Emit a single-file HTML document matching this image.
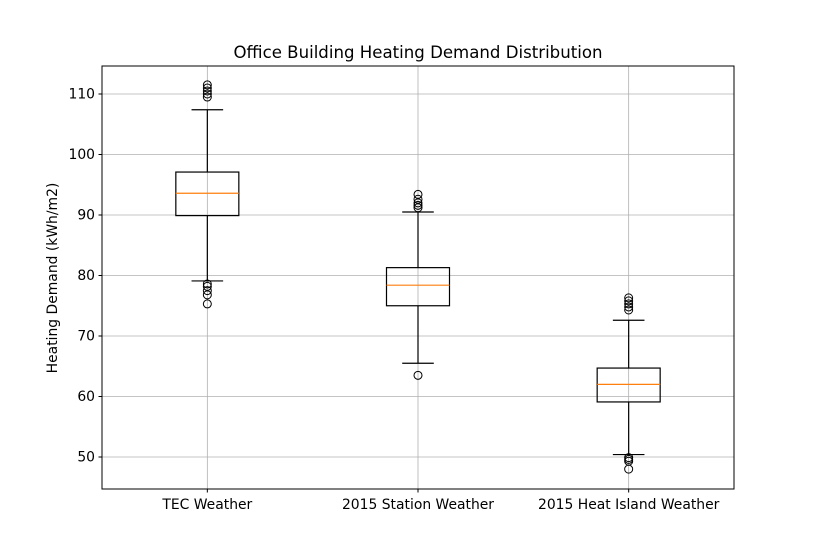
<!DOCTYPE html>
<html><head><meta charset="utf-8"><style>body{margin:0;background:#fff}svg{display:block;font-family:"DejaVu Sans","Liberation Sans",sans-serif}</style></head>
<body>
<svg id="c" width="816" height="549"></svg>
<script>
const categories=["TEC Weather","2015 Station Weather","2015 Heat Island Weather"];
const q1=[89.9,75.0,59.1];
const q3=[97.1,81.3,64.7];
const medians=[93.6,78.4,62.0];
const whiskLo=[79.1,65.5,50.4];
const whiskHi=[107.4,90.5,72.6];
const outliers=[[75.3,76.8,77.5,78.2,78.6,109.5,110.0,110.5,111.0,111.5],[63.5,91.2,91.6,92.0,92.6,93.4],[48.0,49.3,49.6,49.9,74.3,74.8,75.3,75.8,76.3]];
const yTicks=[50,60,70,80,90,100,110];
const L=102,R=734,T=66,B=489;
const ys=v=>457-(v-50)*6.05;
const xs=i=>L+(i+0.5)*(R-L)/3;
const NS="http://www.w3.org/2000/svg",svg=document.getElementById('c');
function mk(t,a,txt){const e=document.createElementNS(NS,t);for(const k in a)e.setAttribute(k,a[k]);if(txt!=null)e.textContent=txt;svg.appendChild(e);return e;}
yTicks.forEach(v=>{const y=ys(v);
const g=mk('line',{x1:L,x2:R,y1:y,y2:y,stroke:'#b0b0b0','stroke-width':0.8});


mk('line',{x1:L-3.5,x2:L,y1:y,y2:y,stroke:'#000'});
const t=mk('text',{x:L-7,y:y+4.5,'text-anchor':'end','font-size':13.9},v);

});
categories.forEach((c,i)=>{const x=xs(i);
const g=mk('line',{x1:x,x2:x,y1:T,y2:B,stroke:'#b0b0b0','stroke-width':0.8});


mk('line',{x1:x,x2:x,y1:B,y2:B+3.5,stroke:'#000'});
const t=mk('text',{x:x,y:B+20,'text-anchor':'middle','font-size':13.9},c);

});
categories.forEach((c,i)=>{const x=xs(i),hw=31.5,cw=15.8;
const s={stroke:'#000','stroke-width':1.2,fill:'none'};
mk('line',Object.assign({x1:x,x2:x,y1:ys(q1[i]),y2:ys(whiskLo[i])},s));
mk('line',Object.assign({x1:x,x2:x,y1:ys(q3[i]),y2:ys(whiskHi[i])},s));
mk('line',Object.assign({x1:x-cw,x2:x+cw,y1:ys(whiskLo[i]),y2:ys(whiskLo[i])},s));
mk('line',Object.assign({x1:x-cw,x2:x+cw,y1:ys(whiskHi[i]),y2:ys(whiskHi[i])},s));
const b=mk('rect',Object.assign({x:x-hw,y:ys(q3[i]),width:2*hw,height:ys(q1[i])-ys(q3[i])},s));


const m=mk('line',{x1:x-hw,x2:x+hw,y1:ys(medians[i]),y2:ys(medians[i]),stroke:'#ff7f0e','stroke-width':1.2});


outliers[i].forEach(v=>{const o=mk('circle',{cx:x,cy:ys(v),r:4,fill:'none',stroke:'#000','stroke-width':1});

});});
const f=mk('rect',{x:L,y:T,width:R-L,height:B-T,fill:'none',stroke:'#000','stroke-width':1});


const ti=mk('text',{x:(L+R)/2,y:58,'text-anchor':'middle','font-size':16.6},'Office Building Heating Demand Distribution');


const yl=mk('text',{x:0,y:0,'text-anchor':'middle','font-size':13.9,transform:'translate(57,278) rotate(-90)'},'Heating Demand (kWh/m2)');


</script>
</body></html>
